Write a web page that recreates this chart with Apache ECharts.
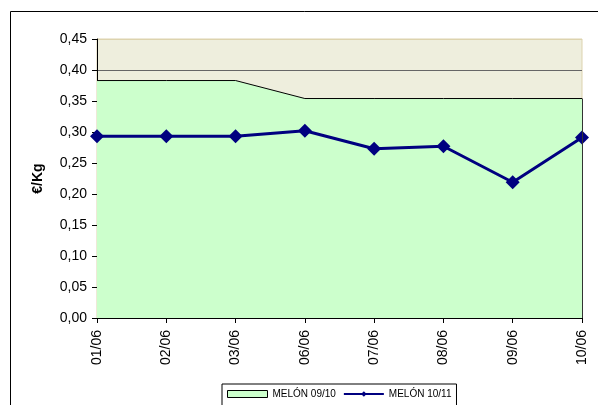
<!DOCTYPE html>
<html>
<head>
<meta charset="utf-8">
<script src="https://cdn.jsdelivr.net/npm/echarts@6/dist/echarts.min.js"></script>
<style>
    html, body {margin: 0; padding: 0; background: #fff;}
    #chart {width: 598px; height: 405px;}
</style>
</head>
<body>
<div id="chart"></div>
<script>
var categories = ['01/06', '02/06', '03/06', '06/06', '07/06', '08/06', '09/06', '10/06'];
var melon0910 = [0.383, 0.383, 0.383, 0.354, 0.354, 0.354, 0.354, 0.354];
var melon1011 = [0.293, 0.293, 0.293, 0.302, 0.273, 0.277, 0.219, 0.291];
var yTicks = [0, 0.05, 0.10, 0.15, 0.20, 0.25, 0.30, 0.35, 0.40, 0.45];

// half-step categories, only used to draw the small inner ticks between days
var halfSteps = [];
for (let i = 0; i < categories.length * 2 - 1; i++) {
    halfSteps.push(String(i));
}

var font = 'Liberation Sans, Arial, sans-serif';
var splitColors = yTicks.map(function (v, i) {
    return i === yTicks.length - 1 ? '#DDD3AE' : '#666666';
});

var chart = echarts.init(document.getElementById('chart'));
chart.setOption({
    animation: false,
    textStyle: {fontFamily: font},
    graphic: [{
        type: 'rect',
        shape: {x: 10.5, y: 11.5, width: 600, height: 400},
        style: {fill: 'none', stroke: '#000', lineWidth: 1},
        silent: true
    }],
    grid: {
        left: 97, right: 16, top: 39, bottom: 87,
        show: true,
        backgroundColor: '#EEEEDD',
        borderColor: '#DDD3AE',
        borderWidth: 1
    },
    legend: {
        top: 384,
        left: 222,
        padding: [5, 5, 8, 5],
        itemGap: 7,
        itemWidth: 40,
        itemHeight: 7,
        borderColor: '#000',
        borderWidth: 1,
        backgroundColor: '#fff',
        textStyle: {fontSize: 10, color: '#000', fontFamily: font},
        data: [{
            name: 'MELÓN 09/10',
            icon: 'rect',
            itemStyle: {color: '#CCFFCC', borderColor: '#000', borderWidth: 1}
        }, {
            name: 'MELÓN 10/11'
        }]
    },
    xAxis: [{
        type: 'category',
        data: categories,
        boundaryGap: false,
        axisLine: {lineStyle: {color: '#000', width: 1}},
        axisTick: {show: true, length: 5, lineStyle: {color: '#000'}},
        axisLabel: {rotate: 90, margin: 12, fontSize: 14, color: '#000', fontFamily: font},
        splitLine: {show: false}
    }, {
        type: 'category',
        data: halfSteps,
        position: 'bottom',
        boundaryGap: false,
        axisLine: {show: false},
        axisTick: {
            show: true, inside: true, length: 4,
            lineStyle: {color: '#000'},
            interval: function (index) { return index % 2 === 1; }
        },
        axisLabel: {show: false},
        splitLine: {show: false}
    }],
    yAxis: {
        type: 'value',
        min: 0,
        max: 0.45,
        interval: 0.05,
        name: '€/Kg',
        nameLocation: 'middle',
        nameGap: 52,
        nameTextStyle: {fontSize: 14, fontWeight: 'bold', color: '#000', fontFamily: font},
        axisLine: {show: true, lineStyle: {color: '#000', width: 1}},
        axisTick: {show: true, length: 5, lineStyle: {color: '#000'}},
        axisLabel: {
            margin: 10, fontSize: 14, color: '#000', fontFamily: font,
            formatter: function (v) { return v.toFixed(2).replace('.', ','); }
        },
        splitLine: {show: true, lineStyle: {color: splitColors, width: 1}}
    },
    series: [{
        name: 'MELÓN 09/10',
        type: 'line',
        data: melon0910,
        symbol: 'none',
        itemStyle: {color: '#CCFFCC', borderColor: '#000', borderWidth: 1},
        lineStyle: {color: '#000', width: 1},
        areaStyle: {color: '#CCFFCC', opacity: 1},
        markLine: {
            silent: true,
            symbol: 'none',
            label: {show: false},
            lineStyle: {color: '#333', type: 'solid', width: 1},
            data: [[{coord: [categories.length - 1, 0]}, {coord: [categories.length - 1, melon0910[melon0910.length - 1]]}]]
        },
        z: 1
    }, {
        name: 'MELÓN 10/11',
        type: 'line',
        data: melon1011,
        symbol: 'diamond',
        symbolSize: 14,
        itemStyle: {color: '#000080'},
        lineStyle: {color: '#000080', width: 3},
        z: 3
    }]
});
</script>
</body>
</html>
